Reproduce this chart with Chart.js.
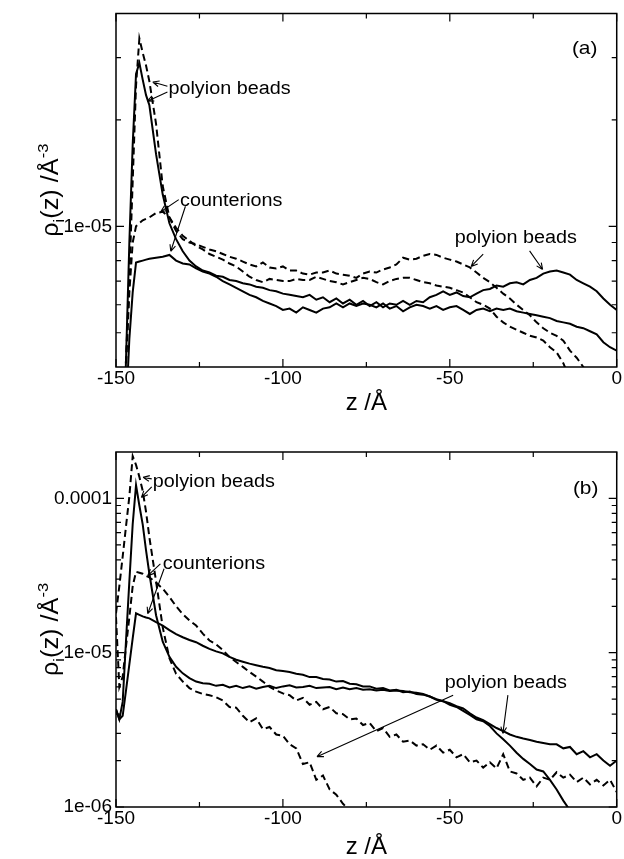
<!DOCTYPE html>
<html><head><meta charset="utf-8">
<script src="https://cdn.jsdelivr.net/npm/chart.js@4.4.0/dist/chart.umd.min.js"></script>
<style>
html,body{margin:0;padding:0;background:#fff;}
#wrap{position:relative;width:624px;height:859px;overflow:hidden;background:#fff;}
canvas{position:absolute;left:0;}
</style></head><body>
<div id="wrap">
<canvas id="ca" width="624" height="430" style="top:0px"></canvas>
<canvas id="cb" width="624" height="429" style="top:430px"></canvas>
</div>
<script>
// z grid (Å)
const zGrid = [-150,-149,-148,-147,-146,-145,-144,-143,-142,-141,-140,
 -138,-136,-134,-132,-130,-128,-126,-124,-122,-120,
 -118,-116,-114,-112,-110,-108,-106,-104,-102,-100,
 -98,-96,-94,-92,-90,-88,-86,-84,-82,-80,
 -78,-76,-74,-72,-70,-68,-66,-64,-62,-60,
 -58,-56,-54,-52,-50,-48,-46,-44,-42,-40,
 -38,-36,-34,-32,-30,-28,-26,-24,-22,-20,
 -18,-16,-14,-12,-10,-8,-6,-4,-2,0];

// Panel (a) densities in units of 1e-6 Å^-3
const aSolidBeads = [1,1,2,4.2,9,17,27,29,26,23.5,22,
 16,12.3,10.2,9.2,8.5,8.0,7.7,7.5,7.4,7.25,
 7.2,7.05,7.0,6.9,6.85,6.75,6.7,6.6,6.55,6.45,
 6.4,6.35,6.3,6.4,6.2,6.3,6.1,6.25,6.05,6.2,
 6.0,6.15,5.95,6.1,5.9,6.05,6.0,6.15,6.0,6.15,
 6.1,6.3,6.4,6.55,6.4,6.5,6.35,6.3,6.45,6.6,
 6.65,6.8,6.75,6.9,6.95,6.85,7.05,7.15,7.35,7.45,
 7.5,7.4,7.3,7.05,6.9,6.75,6.55,6.25,6.0,5.8];
const aSolidCounter = [1,1,1.5,3,4.8,6.5,7.9,7.95,8.0,8.05,8.1,
 8.15,8.2,8.3,8.0,7.85,7.8,7.6,7.45,7.35,7.2,
 7.0,6.85,6.7,6.55,6.4,6.3,6.15,6.05,5.95,5.8,
 5.85,5.7,5.9,5.8,5.7,5.85,5.9,6.05,5.9,6.05,
 5.95,6.05,6.0,5.9,6.05,5.85,5.95,5.75,5.9,6.0,
 5.95,5.85,5.95,5.8,5.9,5.95,5.8,5.65,5.8,5.85,
 5.75,5.85,5.8,5.85,5.75,5.7,5.65,5.6,5.55,5.5,
 5.4,5.35,5.3,5.2,5.15,5.05,4.95,4.7,4.55,4.45];
const aDashBeads = [1,1,2.5,4.2,7.2,13.4,25,34,31,28.5,25.7,
 19.5,13,10.6,9.7,9.2,9.0,8.9,8.75,8.6,8.5,
 8.35,8.2,8.1,7.95,7.8,7.7,7.9,7.65,7.6,7.7,
 7.5,7.5,7.35,7.3,7.4,7.4,7.5,7.35,7.3,7.25,
 7.15,7.35,7.45,7.4,7.55,7.65,7.8,8.15,8.05,8.1,
 8.25,8.35,8.3,8.15,8.05,7.95,7.8,7.65,7.4,7.15,
 6.95,6.7,6.45,6.25,6.0,5.8,5.6,5.35,5.15,5.0,
 4.9,4.75,4.45,4.25,4.0,3.7,null,null,null,null];
const aDashCounter = [1,1,2,4,6.5,9,10.0,10.2,10.4,10.5,10.6,
 10.9,11.0,10.6,9.9,9.4,9.1,8.8,8.6,8.35,8.2,
 8.05,7.85,7.7,7.45,7.2,7.05,6.95,7.1,7.05,7.0,
 7.0,7.1,7.05,7.05,7.2,7.1,7.0,6.95,6.85,6.95,
 7.05,7.15,7.1,6.95,6.85,7.0,7.1,7.15,7.15,7.05,
 6.95,6.9,6.8,6.75,6.7,6.6,6.5,6.3,6.1,6.0,
 5.85,5.55,5.35,5.2,5.1,5.0,4.9,4.85,4.75,4.55,
 4.4,4.1,3.7,null,null,null,null,null,null,null];

// Panel (b) densities in units of 1e-6 Å^-3
const bSolidBeads = [4.3,3.7,4.8,12,29,68,122,90,68,46,32.5,
 17.5,11.8,9.4,8.1,7.35,6.85,6.5,6.35,6.3,6.1,
 6.2,5.95,6.1,5.9,6.05,5.85,6.0,6.1,5.9,6.05,
 6.15,5.95,6.0,6.1,5.9,5.95,6.0,5.8,5.95,5.8,
 5.9,5.75,5.8,5.7,5.75,5.65,5.7,5.65,5.55,5.5,
 5.4,5.2,4.95,4.85,4.6,4.45,4.2,3.95,3.7,3.6,
 3.35,3.0,2.75,2.5,2.25,2.05,1.9,1.75,1.7,1.5,
 1.3,1.1,0.95,null,null,null,null,null,null,null];
const bSolidCounter = [4.3,3.7,3.9,5.7,8.4,12.4,18,17.6,17.2,16.9,16.7,
 15.8,15.0,14.0,13.2,12.6,12.1,11.7,11.1,10.6,10.2,
 9.9,9.4,9.0,8.75,8.5,8.3,8.1,7.95,7.7,7.6,
 7.5,7.3,7.2,6.95,6.95,6.75,6.7,6.5,6.55,6.3,
 6.25,6.05,6.05,5.85,5.9,5.7,5.75,5.55,5.6,5.4,
 5.35,5.2,5.0,4.85,4.7,4.5,4.35,4.05,3.8,3.65,
 3.45,3.25,3.1,2.95,2.85,2.78,2.72,2.65,2.6,2.55,
 2.55,2.4,2.45,2.2,2.3,2.1,2.2,2.0,1.85,2.0];
const bDashBeads = [18,27,42,66,103,188,165,138,112,82,56,
 29,14.6,9.2,7.3,6.5,5.9,5.6,5.4,5.3,5.15,
 4.9,4.45,4.4,3.9,3.55,3.75,3.2,3.3,2.95,2.9,
 2.55,2.4,1.9,1.95,1.5,1.6,1.3,1.2,1.05,0.95,
 null,null,null,null,null,null,null,null,null,null,
 null,null,null,null,null,null,null,null,null,null,
 null,null,null,null,null,null,null,null,null,null,
 null,null,null,null,null,null,null,null,null,null];
const bDashCounter = [17,6,7,11,17,27,33.5,33,32.5,31.5,30.8,
 28.5,26,23,20,17.8,16.2,15,13.3,12.0,11.3,
 10.4,9.4,8.7,8.1,7.5,7.0,6.5,6.0,5.7,5.45,
 5.3,4.9,5.1,4.6,4.8,4.3,4.45,4.05,4.0,3.7,
 3.75,3.4,3.5,3.1,3.25,2.85,2.95,2.65,2.7,2.5,
 2.55,2.35,2.5,2.25,2.35,2.1,2.2,1.95,2.0,1.8,
 1.95,1.78,2.2,1.7,1.65,1.5,1.55,1.36,1.55,1.5,
 1.68,1.55,1.62,1.45,1.55,1.4,1.5,1.38,1.5,1.25];

// Ticks
const xMajor = [-150,-100,-50,0];
const xLabels = ['-150','-100','-50','0'];
const xMinor = [-125,-75,-25];
const yMajorA = [1e-5];
const yLabelsA = ['1e-05'];
const yMinorA = [5e-6,6e-6,7e-6,8e-6,9e-6,2e-5,3e-5];
const yMajorB = [1e-6,1e-5,1e-4];
const yLabelsB = ['1e-06','1e-05','0.0001'];
const yMinorB = [2e-6,3e-6,4e-6,5e-6,6e-6,7e-6,8e-6,9e-6,2e-5,3e-5,4e-5,5e-5,6e-5,7e-5,8e-5,9e-5];

const FONT = "'Liberation Sans', Arial, Helvetica, sans-serif";
const STRETCH = 1.1;

function series(vals, dashed) {
  return {
    data: zGrid.map((z, i) => ({x: z, y: vals[i] == null ? null : vals[i] * 1e-6})),
    borderColor: '#000', borderWidth: 2,
    borderDash: dashed ? [7, 4] : [],
    pointRadius: 0, tension: 0, fill: false, spanGaps: false
  };
}

function stretchedText(ctx, text, x, y, size, align) {
  ctx.save();
  ctx.font = size + 'px ' + FONT;
  const w = ctx.measureText(text).width * STRETCH;
  let x0 = x;
  if (align === 'center') x0 = x - w / 2;
  else if (align === 'right') x0 = x - w;
  ctx.translate(x0, y);
  ctx.scale(STRETCH, 1);
  ctx.textAlign = 'left';
  ctx.textBaseline = 'middle';
  ctx.fillStyle = '#000';
  ctx.fillText(text, 0, 0);
  ctx.restore();
}

function arrow(ctx, x1, y1, x2, y2) {
  ctx.beginPath();
  ctx.moveTo(x1, y1); ctx.lineTo(x2, y2);
  const ang = Math.atan2(y2 - y1, x2 - x1);
  const L = 7, sp = 0.42;
  ctx.moveTo(x2, y2); ctx.lineTo(x2 - L * Math.cos(ang - sp), y2 - L * Math.sin(ang - sp));
  ctx.moveTo(x2, y2); ctx.lineTo(x2 - L * Math.cos(ang + sp), y2 - L * Math.sin(ang + sp));
  ctx.stroke();
}

function drawYTitle(ctx, cx, cy) {
  const parts = [
    {t: 'ρ', s: 23, dy: 0},
    {t: 'i', s: 15, dy: 6},
    {t: '(z) /Å', s: 23, dy: 0},
    {t: '-3', s: 15, dy: -10}
  ];
  let total = 0;
  parts.forEach(p => { ctx.font = p.s + 'px ' + FONT; p.w = ctx.measureText(p.t).width * STRETCH; total += p.w; });
  ctx.save();
  ctx.translate(cx, cy);
  ctx.rotate(-Math.PI / 2);
  ctx.fillStyle = '#000';
  ctx.textBaseline = 'alphabetic';
  let x = -total / 2;
  parts.forEach(p => {
    ctx.save();
    ctx.font = p.s + 'px ' + FONT;
    ctx.translate(x, 8 + p.dy);
    ctx.scale(STRETCH, 1);
    ctx.fillText(p.t, 0, 0);
    ctx.restore();
    x += p.w;
  });
  ctx.restore();
}

function framePlugin(yMajor, yMinor, notes) {
  return {
    id: 'frame',
    afterDatasetsDraw(chart) {
      const {ctx, chartArea: a, scales: {x, y}} = chart;
      ctx.save();
      ctx.strokeStyle = '#000';
      ctx.lineWidth = 1.5;
      ctx.strokeRect(a.left, a.top, a.right - a.left, a.bottom - a.top);
      ctx.lineWidth = 1.2;
      ctx.beginPath();
      const tx = (v, len) => { const p = x.getPixelForValue(v);
        ctx.moveTo(p, a.bottom); ctx.lineTo(p, a.bottom - len);
        ctx.moveTo(p, a.top); ctx.lineTo(p, a.top + len); };
      const ty = (v, len) => { const p = y.getPixelForValue(v);
        ctx.moveTo(a.left, p); ctx.lineTo(a.left + len, p);
        ctx.moveTo(a.right, p); ctx.lineTo(a.right - len, p); };
      xMajor.forEach(v => tx(v, 8));
      xMinor.forEach(v => tx(v, 5));
      yMajor.forEach(v => ty(v, 8));
      yMinor.forEach(v => ty(v, 5));
      ctx.stroke();
      // annotations
      ctx.lineWidth = 1.1;
      notes.arrows.forEach(r => {
        arrow(ctx, x.getPixelForValue(r[0]), y.getPixelForValue(r[1] * 1e-6),
                   x.getPixelForValue(r[2]), y.getPixelForValue(r[3] * 1e-6));
      });
      notes.labels.forEach(l => {
        stretchedText(ctx, l.text, x.getPixelForValue(l.z), y.getPixelForValue(l.v * 1e-6), l.size, l.align);
      });
      drawYTitle(ctx, 50, (a.top + a.bottom) / 2);
      ctx.restore();
    }
  };
}

function makePanel(id, sets, yMin, yMax, yMajor, yLabels, yMinor, pad, xHeight, titlePad, notes) {
  new Chart(document.getElementById(id), {
    type: 'line',
    data: {datasets: sets},
    options: {
      responsive: false, animation: false, devicePixelRatio: 1,
      layout: {padding: {left: 0, right: pad.right, top: pad.top, bottom: 0}},
      plugins: {legend: {display: false}, tooltip: {enabled: false}},
      scales: {
        x: {
          type: 'linear', min: -150, max: 0, position: 'bottom',
          grid: {display: false, drawTicks: false}, border: {display: false},
          afterBuildTicks: s => { s.ticks = xMajor.map(v => ({value: v})); },
          afterFit: s => { s.height = xHeight; },
          ticks: {autoSkip: false, maxRotation: 0, padding: 2, color: '#000',
                  font: {family: FONT, size: 19, lineHeight: 1},
                  callback: (v, i) => xLabels[i]},
          title: {display: true, text: 'z /Å', color: '#000',
                  font: {family: FONT, size: 24, lineHeight: 1},
                  padding: {top: 0, bottom: titlePad}}
        },
        y: {
          type: 'logarithmic', min: yMin, max: yMax,
          grid: {display: false, drawTicks: false}, border: {display: false},
          afterBuildTicks: s => { s.ticks = yMajor.map(v => ({value: v})); },
          afterFit: s => { s.width = 116; },
          ticks: {autoSkip: false, padding: 4, color: '#000',
                  font: {family: FONT, size: 19, lineHeight: 1},
                  callback: (v, i) => yLabels[i]}
        }
      }
    },
    plugins: [framePlugin(yMajor, yMinor, notes)]
  });
}

const notesA = {
  labels: [
    {text: 'polyion beads', z: -134.3, v: 24.4, size: 18, align: 'left'},
    {text: 'counterions', z: -130.8, v: 11.8, size: 18, align: 'left'},
    {text: 'polyion beads', z: -48.5, v: 9.29, size: 18, align: 'left'},
    {text: '(a)', z: -9.6, v: 31.8, size: 19, align: 'center'}
  ],
  arrows: [
    [-134.6, 24.9, -139.0, 25.6],
    [-134.6, 24.0, -140.6, 22.6],
    [-131.2, 11.9, -136.6, 11.0],
    [-129.2, 11.4, -133.6, 8.5],
    [-40.0, 8.34, -43.6, 7.7],
    [-26.1, 8.52, -22.2, 7.55]
  ]
};
const notesB = {
  labels: [
    {text: 'polyion beads', z: -139.0, v: 127, size: 18, align: 'left'},
    {text: 'counterions', z: -136.0, v: 37.7, size: 18, align: 'left'},
    {text: 'polyion beads', z: -51.5, v: 6.32, size: 18, align: 'left'},
    {text: '(b)', z: -9.3, v: 115.6, size: 19, align: 'center'}
  ],
  arrows: [
    [-139.3, 134, -141.9, 137],
    [-139.3, 119, -142.4, 101.5],
    [-136.7, 37.7, -140.5, 31.6],
    [-135.6, 35, -140.5, 17.9],
    [-49.0, 5.31, -89.8, 2.12],
    [-32.6, 5.31, -34.1, 3.0]
  ]
};

makePanel('ca',
  [series(aSolidBeads, false), series(aSolidCounter, false), series(aDashBeads, true), series(aDashCounter, true)],
  4e-6, 4e-5, yMajorA, yLabelsA, yMinorA, {top: 12, right: 5}, 63, 15, notesA);
makePanel('cb',
  [series(bSolidBeads, false), series(bSolidCounter, false), series(bDashBeads, true), series(bDashCounter, true)],
  1e-6, 2e-4, yMajorB, yLabelsB, yMinorB, {top: 22, right: 5}, 52, 0, notesB);
</script>
</body></html>
